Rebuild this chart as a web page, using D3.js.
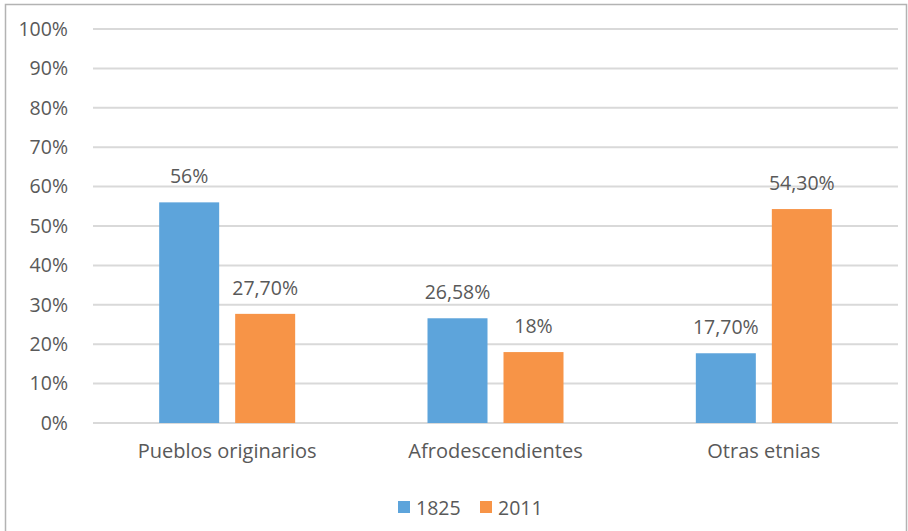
<!DOCTYPE html>
<html>
<head>
<meta charset="utf-8">
<script src="https://cdn.jsdelivr.net/npm/d3@7"></script>
<style>
  body { margin: 0; background: #fff; }
  text { font-family: "Open Sans", sans-serif; fill: #595959; }
</style>
</head>
<body>
<svg width="908" height="531"></svg>
<script>
var categories = ["Pueblos originarios", "Afrodescendientes", "Otras etnias"];
var series = ["1825", "2011"];
var values1825 = [56, 26.58, 17.7];
var values2011 = [27.7, 18, 54.3];
var labels1825 = ["56%", "26,58%", "17,70%"];
var labels2011 = ["27,70%", "18%", "54,30%"];
var yTicks = [0, 10, 20, 30, 40, 50, 60, 70, 80, 90, 100];
var colors = ["#5DA4DB", "#F79447"];

var svg = d3.select("svg"),
    margin = {top: 29, right: 10, bottom: 108, left: 93},
    width = +svg.attr("width") - margin.left - margin.right,
    height = +svg.attr("height") - margin.top - margin.bottom;

// chart frame
svg.append("rect")
    .attr("x", 5.5).attr("y", 4.5)
    .attr("width", 901).attr("height", 540)
    .attr("fill", "none")
    .attr("stroke", "#b3b3b3")
    .attr("stroke-width", 1.5);

var g = svg.append("g").attr("transform", "translate(" + margin.left + "," + margin.top + ")");

var groupW = 136;
var x0 = d3.scaleBand().domain(categories).range([0, width]);
var x1 = d3.scaleBand().domain(series).range([0, groupW]).paddingInner(16 / 76);
var y = d3.scaleLinear().domain([0, 100]).range([height, 0]);

var data = categories.map(function(c, i) {
  return {cat: c, vals: [
    {s: series[0], v: values1825[i], label: labels1825[i]},
    {s: series[1], v: values2011[i], label: labels2011[i]}
  ]};
});

// gridlines
g.append("g")
  .selectAll("line")
  .data(yTicks)
  .enter().append("line")
    .attr("x1", 0).attr("x2", width)
    .attr("y1", function(d) { return y(d); })
    .attr("y2", function(d) { return y(d); })
    .attr("stroke", "#d9d9d9")
    .attr("stroke-width", 2);

// y axis labels
var yAxis = g.append("g")
    .attr("transform", "translate(-22,0)")
    .call(d3.axisLeft(y).tickValues(yTicks).tickSize(0).tickFormat(function(d) { return d + "%"; }));
yAxis.select(".domain").remove();
yAxis.selectAll("text")
    .style("font-family", "'Open Sans', sans-serif")
    .style("font-size", "19.5px")
    .attr("fill", "#595959");

// x axis labels
var xAxis = g.append("g")
    .attr("transform", "translate(0," + height + ")")
    .call(d3.axisBottom(x0).tickSize(0).tickPadding(21));
xAxis.select(".domain").remove();
xAxis.selectAll("text")
    .style("font-family", "'Open Sans', sans-serif")
    .style("font-size", "20px")
    .attr("fill", "#595959");

var groups = g.selectAll(".grp")
  .data(data)
  .enter().append("g")
    .attr("class", "grp")
    .attr("transform", function(d) { return "translate(" + (x0(d.cat) + (x0.bandwidth() - groupW) / 2) + ",0)"; });

groups.selectAll("rect")
  .data(function(d) { return d.vals; })
  .enter().append("rect")
    .attr("x", function(d) { return x1(d.s); })
    .attr("y", function(d) { return y(d.v); })
    .attr("width", x1.bandwidth())
    .attr("height", function(d) { return height - y(d.v); })
    .attr("fill", function(d, i) { return colors[i]; });

groups.selectAll(".lbl")
  .data(function(d) { return d.vals; })
  .enter().append("text")
    .attr("class", "lbl")
    .attr("x", function(d) { return x1(d.s) + x1.bandwidth() / 2; })
    .attr("y", function(d) { return y(d.v) - 19; })
    .attr("text-anchor", "middle")
    .style("font-size", "19.5px")
    .text(function(d) { return d.label; });

// legend
var legend = svg.append("g").attr("transform", "translate(398,501)");
var items = legend.selectAll("g")
  .data(series)
  .enter().append("g")
    .attr("transform", function(d, i) { return "translate(" + (i * 82) + ",0)"; });
items.append("rect")
    .attr("width", 12).attr("height", 12)
    .attr("fill", function(d, i) { return colors[i]; });
items.append("text")
    .attr("x", 18).attr("y", 14)
    .style("font-size", "19.5px")
    .text(function(d) { return d; });
</script>
</body>
</html>
